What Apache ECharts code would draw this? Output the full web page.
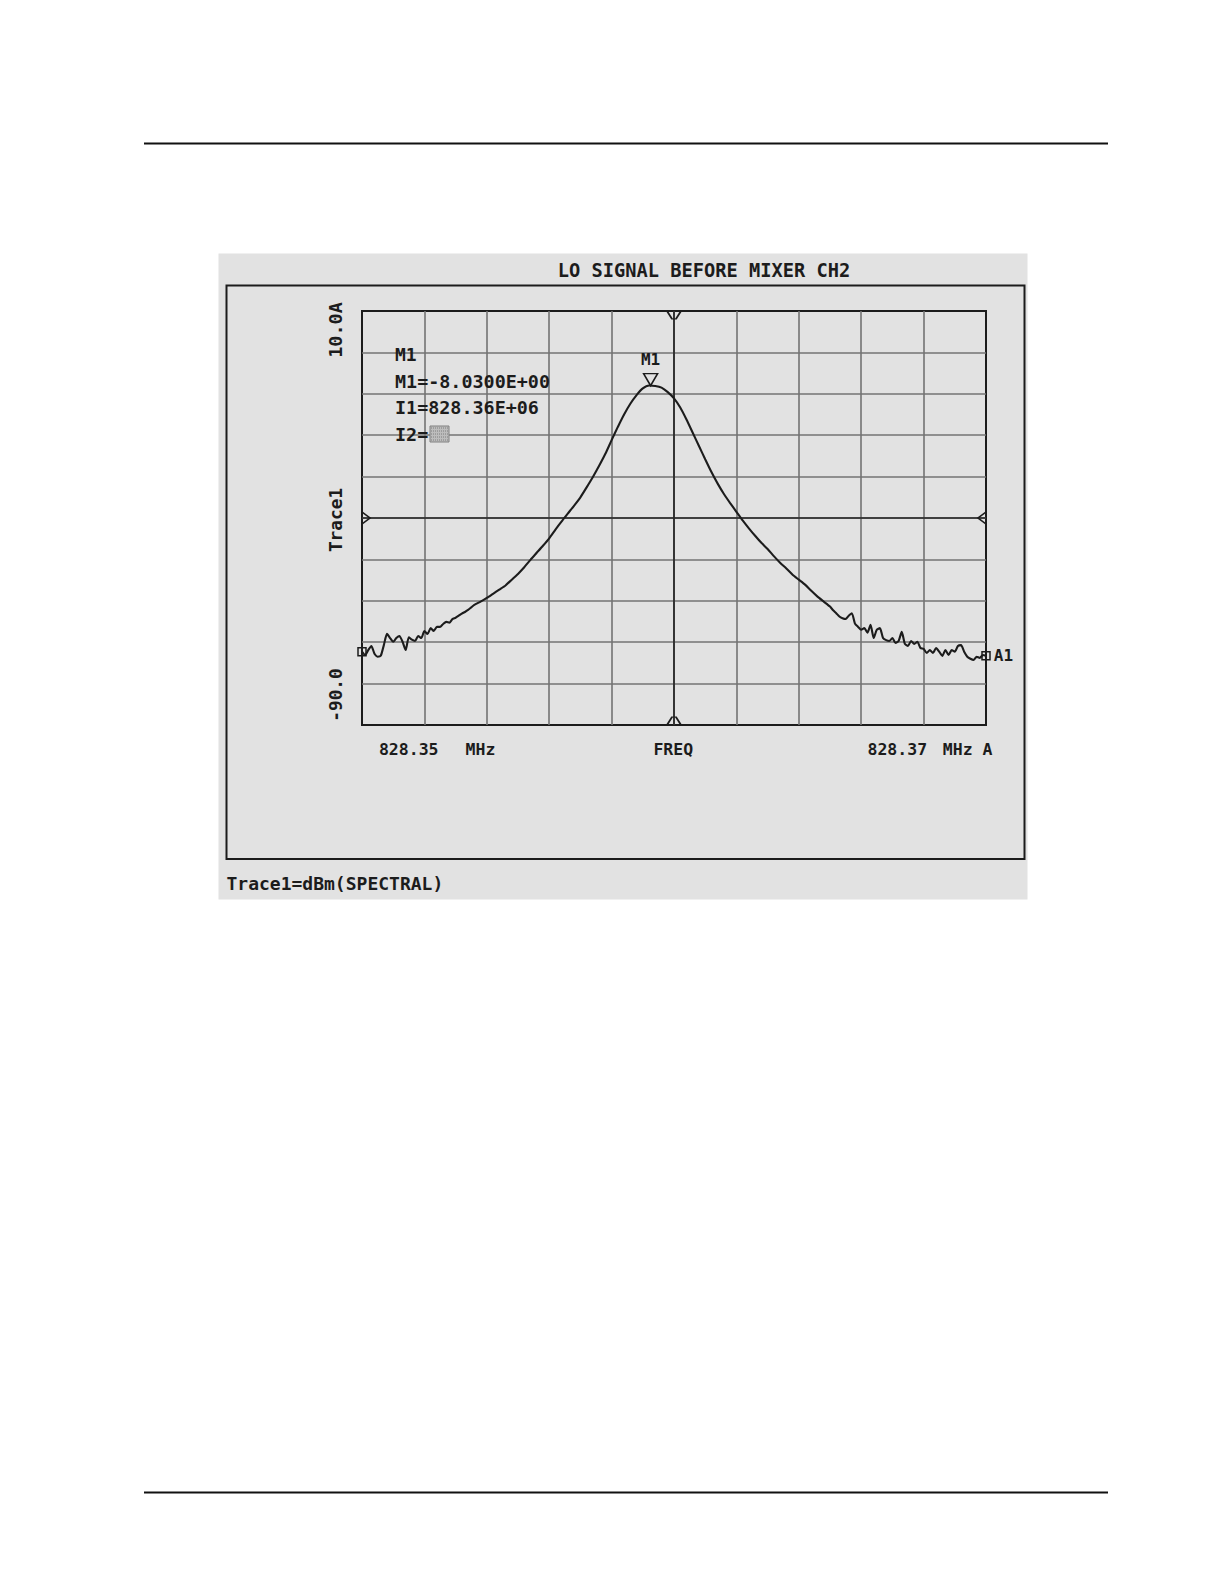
<!DOCTYPE html>
<html>
<head>
<meta charset="utf-8">
<script src="https://cdn.jsdelivr.net/npm/echarts@6/dist/echarts.min.js"></script>
<style>
  html, body { margin: 0; padding: 0; background: #ffffff; }
  #chart { width: 1224px; height: 1584px; }
</style>
</head>
<body>
<div id="chart"></div>
<script>
// ---- Data (spectrum analyser trace) ----
const chartTitle = 'LO SIGNAL BEFORE MIXER CH2';
const sweepStartKHz = 828350;   // 828.35 MHz
const sweepStopKHz = 828370;    // 828.37 MHz
const refLevelDbm = 10;
const bottomLevelDbm = -90;
const xTickLabels = ['828.35', 'MHz', 'FREQ', '828.37', 'MHz A'];
const yTickLabels = ['10.0A', 'Trace1', '-90.0'];
const markerLines = ['M1', 'M1=-8.0300E+00', 'I1=828.36E+06', 'I2='];
const footerText = 'Trace1=dBm(SPECTRAL)';
const markerFreqKHz = 828359.25;
const markerLevelDbm = -8.03;

// frequency offsets (kHz from sweep start) and levels (dBm)
const offsetsLeft = [0.0,0.1,0.2,0.3,0.4,0.5,0.6,0.7,0.8,0.9,1.0,1.1,1.2,1.3,1.4,1.5,1.6,1.7,1.8,1.9,2.0,2.1,2.2,2.3,2.4,2.5,2.6,2.7,2.8,2.9,3.0,3.1,3.2,3.3,3.4,3.5,3.6];
const levelsLeft = [-72.3,-73.1,-71.9,-70.9,-72.8,-73.5,-73.3,-70.7,-68.0,-69.0,-69.9,-69.0,-68.5,-69.9,-71.9,-68.8,-69.4,-69.7,-68.5,-69.0,-67.3,-68.0,-66.6,-67.3,-66.3,-66.3,-65.6,-65.1,-65.3,-64.4,-64.1,-63.6,-63.1,-62.7,-62.2,-61.6,-61.0];

const offsetsMid = [3.8,4.0,4.2,4.4,4.6,4.8,5.0,5.2,5.4,5.6,5.8,6.0,6.2,6.4,6.6,6.8,7.0,7.2,7.4,7.6,7.8,8.0,8.2,8.4,8.6,8.8,9.0,9.2,9.4,9.6,9.8,10.0,10.2,10.4,10.6,10.8,11.0,11.2,11.4,11.6,11.8,12.0,12.2,12.4,12.6,12.8,13.0,13.2,13.4,13.6,13.8,14.0,14.2,14.4,14.6,14.8,15.0];
const levelsMid = [-60.2,-59.3,-58.3,-57.3,-56.3,-54.9,-53.5,-51.9,-50.1,-48.4,-46.7,-44.9,-42.8,-40.8,-38.9,-37.0,-35.0,-32.6,-30.1,-27.4,-24.5,-21.2,-18.0,-15.0,-12.4,-10.3,-8.7,-8.0,-8.1,-8.5,-9.6,-11.1,-13.3,-16.2,-19.4,-22.6,-25.8,-28.9,-31.7,-34.2,-36.4,-38.5,-40.6,-42.5,-44.3,-46.0,-47.5,-49.2,-50.8,-52.2,-53.7,-54.9,-56.1,-57.6,-59.0,-60.2,-61.4];

const offsetsRight = [15.1,15.2,15.3,15.4,15.5,15.6,15.7,15.8,15.9,16.0,16.1,16.2,16.3,16.4,16.5,16.6,16.7,16.8,16.9,17.0,17.1,17.2,17.3,17.4,17.5,17.6,17.7,17.8,17.9,18.0,18.1,18.2,18.3,18.4,18.5,18.6,18.7,18.8,18.9,19.0,19.1,19.2,19.3,19.4,19.5,19.6,19.7,19.8,19.9,20.0];
const levelsRight = [-62.3,-63.0,-63.8,-64.2,-64.4,-63.6,-63.0,-65.5,-66.3,-67.0,-66.6,-67.7,-65.8,-69.0,-67.0,-66.6,-69.0,-69.5,-69.7,-69.0,-70.2,-69.7,-67.5,-70.4,-70.9,-69.7,-70.4,-69.9,-71.4,-71.6,-72.6,-71.9,-72.6,-71.4,-72.3,-73.3,-71.9,-73.1,-71.9,-72.3,-70.9,-70.7,-72.3,-73.5,-74.0,-74.3,-73.5,-73.8,-73.1,-73.3];

// ---- Build series data ----
const offsets = offsetsLeft.concat(offsetsMid, offsetsRight);
const levels = levelsLeft.concat(levelsMid, levelsRight);
const traceData = offsets.map((o, i) => [sweepStartKHz + o, levels[i]]);
const firstPt = traceData[0];
const lastPt = traceData[traceData.length - 1];
const centerKHz = (sweepStartKHz + sweepStopKHz) / 2;
const centerDbm = (refLevelDbm + bottomLevelDbm) / 2;

const INK = '#1c1c1c';
const MONO = '"DejaVu Sans Mono", "Liberation Mono", monospace';
const hollow = { color: 'rgba(0,0,0,0)', borderColor: INK, borderWidth: 1.5 };

function txt(text, x, y, size, opts) {
  opts = opts || {};
  return {
    type: 'text', x: x, y: y, rotation: opts.rotation || 0, z: 10,
    style: {
      text: text, fill: INK,
      fontFamily: MONO, fontSize: size, fontWeight: 'bold',
      align: opts.align || 'center', verticalAlign: 'middle'
    }
  };
}

// shaded cursor block after "I2=" (stippled look)
const stipple = [];
for (let r = 0; r < 5; r++) {
  stipple.push({ type: 'line', z: 11,
    shape: { x1: 431, y1: 428 + r * 3, x2: 448, y2: 428 + r * 3 },
    style: { stroke: '#7e7e7e', lineWidth: 1, lineDash: [1, 1] } });
}

const chart = echarts.init(document.getElementById('chart'), null, { renderer: 'svg' });

const option = {
  backgroundColor: '#ffffff',
  animation: false,
  grid: {
    left: 362, top: 311, right: 238, bottom: 859,
    show: true, backgroundColor: 'rgba(0,0,0,0)',
    borderColor: INK, borderWidth: 2
  },
  xAxis: {
    type: 'value', min: sweepStartKHz, max: sweepStopKHz, interval: 2,
    axisLabel: { show: false }, axisTick: { show: false }, axisLine: { show: false },
    splitLine: { show: true, showMinLine: false, showMaxLine: false,
      lineStyle: { color: '#737373', width: 1.6 } }
  },
  yAxis: {
    type: 'value', min: bottomLevelDbm, max: refLevelDbm, interval: 10,
    axisLabel: { show: false }, axisTick: { show: false }, axisLine: { show: false },
    splitLine: { show: true, showMinLine: false, showMaxLine: false,
      lineStyle: { color: '#737373', width: 1.6 } }
  },
  series: [{
    type: 'line',
    data: traceData,
    showSymbol: false,
    smooth: 0.2,
    lineStyle: { color: INK, width: 2.1 },
    z: 5,
    markLine: {
      silent: true, symbol: ['none', 'none'],
      label: { show: false },
      lineStyle: { color: '#262626', width: 1.7, type: 'solid' },
      data: [{ xAxis: centerKHz }, { yAxis: centerDbm }]
    },
    markPoint: {
      silent: true,
      data: [
        { name: 'M1', coord: [markerFreqKHz, markerLevelDbm],
          symbol: 'path://M0,0 L14,0 L7,12 Z', symbolSize: [14, 12], symbolOffset: [0, -6],
          itemStyle: hollow,
          label: { show: true, formatter: 'M1', position: 'top', distance: 5,
            color: INK, fontFamily: MONO, fontSize: 16, fontWeight: 'bold' } },
        { name: 'start', coord: firstPt, symbol: 'rect', symbolSize: 8,
          itemStyle: hollow, label: { show: false } },
        { name: 'A1', coord: lastPt, symbol: 'rect', symbolSize: 8,
          itemStyle: hollow,
          label: { show: true, formatter: 'A1', position: 'right', distance: 3,
            color: INK, fontFamily: MONO, fontSize: 16, fontWeight: 'bold' } },
        { name: 'top', coord: [centerKHz, refLevelDbm],
          symbol: 'path://M0,0 L5,8 L9,8 L14,0', symbolSize: [14, 8], symbolOffset: [0, 4],
          itemStyle: hollow, label: { show: false } },
        { name: 'bottom', coord: [centerKHz, bottomLevelDbm],
          symbol: 'path://M0,8 L5,0 L9,0 L14,8', symbolSize: [14, 8], symbolOffset: [0, -4],
          itemStyle: hollow, label: { show: false } },
        { name: 'left', coord: [sweepStartKHz, centerDbm],
          symbol: 'path://M0,0 L8,6 L0,12', symbolSize: [8, 12], symbolOffset: [4, 0],
          itemStyle: hollow, label: { show: false } },
        { name: 'right', coord: [sweepStopKHz, centerDbm],
          symbol: 'path://M8,0 L0,6 L8,12', symbolSize: [8, 12], symbolOffset: [-4, 0],
          itemStyle: hollow, label: { show: false } }
      ]
    }
  }],
  graphic: {
    elements: [
      // page rules
      { type: 'line', z: -50, shape: { x1: 144, y1: 143.5, x2: 1108, y2: 143.5 },
        style: { stroke: '#111', lineWidth: 2 } },
      { type: 'line', z: -50, shape: { x1: 144, y1: 1492.5, x2: 1108, y2: 1492.5 },
        style: { stroke: '#111', lineWidth: 2 } },
      // analyser screen panel
      { type: 'rect', z: -100, shape: { x: 218.5, y: 253.5, width: 809, height: 646 },
        style: { fill: '#e2e2e2', stroke: null } },
      { type: 'rect', z: -90, shape: { x: 226.5, y: 285.5, width: 798, height: 573.5 },
        style: { fill: 'rgba(0,0,0,0)', stroke: INK, lineWidth: 2 } },
      // title
      txt(chartTitle, 704, 270, 18.7),
      // y annotations (rotated)
      txt(yTickLabels[0], 335.5, 330, 18.5, { rotation: Math.PI / 2 }),
      txt(yTickLabels[1], 335.5, 520, 17.8, { rotation: Math.PI / 2 }),
      txt(yTickLabels[2], 335.5, 695, 17.8, { rotation: Math.PI / 2 }),
      // x annotations
      txt(xTickLabels[0], 408.7, 749, 16.5),
      txt(xTickLabels[1], 480.5, 749, 16.5),
      txt(xTickLabels[2], 673.3, 749, 16.5),
      txt(xTickLabels[3], 897.3, 749, 16.5),
      txt(xTickLabels[4], 967.7, 749, 16.5),
      // marker readout
      txt(markerLines[0], 395, 354, 18, { align: 'left' }),
      txt(markerLines[1], 395, 381.5, 18.4, { align: 'left' }),
      txt(markerLines[2], 395, 407.5, 18.4, { align: 'left' }),
      txt(markerLines[3], 395, 434.5, 18.4, { align: 'left' }),
      { type: 'rect', z: 10, shape: { x: 430, y: 426, width: 19, height: 16 },
        style: { fill: '#bdbdbd', stroke: '#808080', lineWidth: 1 } }
    ].concat(stipple, [
      // footer
      txt(footerText, 226.5, 883, 18, { align: 'left' })
    ])
  }
};

chart.setOption(option);
</script>
</body>
</html>
